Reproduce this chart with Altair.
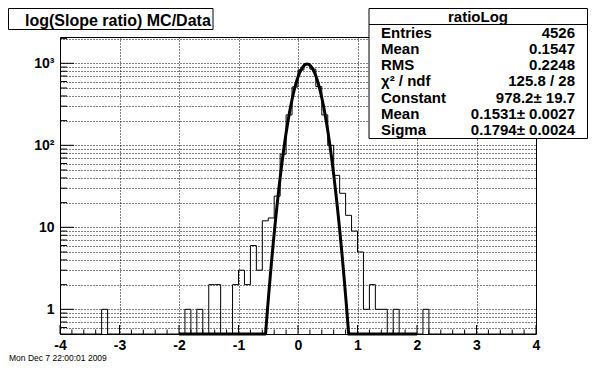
import altair as alt
import pandas as pd

# ---------------- data ----------------
bin_lo = -4.0
bin_width = 0.1
counts = [
    0, 0, 0, 0, 0, 0, 0, 1, 0, 0,
    0, 0, 0, 0, 0, 0, 0, 0, 0, 0,
    0, 1, 0, 1, 0, 2, 2, 0, 0, 2,
    3, 2, 6, 3, 12, 13, 24, 78, 235, 515,
    830, 987, 850, 520, 235, 100, 43, 26, 14, 9,
    5, 1, 2, 1, 1, 0, 1, 0, 0, 0,
    0, 1, 0, 0, 0, 0, 0, 0, 0, 0,
    0, 0, 0, 0, 0, 0, 0, 0, 0, 0,
]
fit_const = 978.2
fit_mean = 0.1531
fit_sigma = 0.1794
fit_lo, fit_hi = -2.0, 2.0
y_min, y_max = 0.5, 2094.0

x_major = [-4, -3, -2, -1, 0, 1, 2, 3, 4]
x_minor = [round(-4 + 0.2 * k, 1) for k in range(41) if k % 5 != 0]
y_major = [1, 10, 100, 1000]
y_minor = [0.6, 0.7, 0.8, 0.9] + [m * d for d in (1, 10, 100) for m in range(2, 10)] + [2000]
y_grid = sorted(y_major + y_minor)

title_text = "log(Slope ratio) MC/Data"
stats_title = "ratioLog"
stat_labels = ["Entries", "Mean", "RMS", "χ² / ndf", "Constant", "Mean", "Sigma"]
stat_values = ["4526", "0.1547", "0.2248", "125.8 / 28", "978.2± 19.7", "0.1531± 0.0027", "0.1794± 0.0024"]
date_text = "Mon Dec  7 22:00:01 2009"

FONT = "Liberation Sans"
W, H = 476, 297

# ---------------- tables ----------------
edges = [bin_lo + i * bin_width for i in range(len(counts) + 1)]
levels = [max(c, y_min) for c in counts] + [max(counts[-1], y_min)]
hist_df = pd.DataFrame({"x": edges, "y": levels})

xs = alt.Scale(domain=[-4, 4], nice=False, zero=False)
ys = alt.Scale(type="log", domain=[y_min, y_max], nice=False)

xaxis = alt.Axis(values=x_major, title=None, ticks=False, domain=False,
                 grid=True, gridDash=[1, 2], gridColor="black", gridOpacity=1,
                 labelExpr="'' + datum.value", labelFont=FONT, labelFontWeight="bold",
                 labelFontSize=14, labelColor="black", labelPadding=4,
                 labelOverlap=False, labelFlush=False)
yaxis = alt.Axis(values=y_grid, title=None, ticks=False, domain=False,
                 grid=True, gridDash=[1, 2], gridColor="black", gridOpacity=1,
                 labelExpr="datum.value == 1 ? '1' : datum.value == 10 ? '10' : datum.value == 100 ? '10²' : datum.value == 1000 ? '10³' : ''",
                 labelFont=FONT, labelFontWeight="bold", labelFontSize=14,
                 labelColor="black", labelPadding=6, labelOverlap=False, labelFlush=False)

X = alt.X("x:Q", scale=xs, axis=xaxis)
Y = alt.Y("y:Q", scale=ys, axis=yaxis)

hist = alt.Chart(hist_df).mark_line(interpolate="step-after", color="black",
                                    strokeWidth=1).encode(x=X, y=Y)

fit = (alt.Chart(alt.sequence(fit_lo, fit_hi + 0.0025, 0.005, as_="x"))
       .transform_calculate(
           y=f"max({y_min}, {fit_const} * exp(-0.5 * pow((datum.x - {fit_mean}) / {fit_sigma}, 2)))")
       .mark_line(color="black", strokeWidth=3)
       .encode(x=X, y=Y))

xt_major = alt.Chart(pd.DataFrame({"x": x_major})).mark_rule(color="black").encode(
    x=X, y=alt.value(H), y2=alt.value(H - 9))
xt_minor = alt.Chart(pd.DataFrame({"x": x_minor})).mark_rule(color="black").encode(
    x=X, y=alt.value(H), y2=alt.value(H - 4.5))
yt_major = alt.Chart(pd.DataFrame({"y": y_major})).mark_rule(color="black").encode(
    y=Y, x=alt.value(0), x2=alt.value(14))
yt_minor = alt.Chart(pd.DataFrame({"y": y_minor})).mark_rule(color="black").encode(
    y=Y, x=alt.value(0), x2=alt.value(7))

one = pd.DataFrame({"a": [0]})

# title box
tbox = alt.Chart(one).mark_rect(fill="white", stroke="black", strokeWidth=1).encode(
    x=alt.value(-51.5), x2=alt.value(153), y=alt.value(-28.5), y2=alt.value(-7.5))
ttext = alt.Chart(one).mark_text(text=title_text, font=FONT, fontWeight="bold", fontSize=16,
                                 align="left", baseline="alphabetic", color="black").encode(
    x=alt.value(-35), y=alt.value(-11))

# stats box
sbox = alt.Chart(one).mark_rect(fill="white", stroke="black", strokeWidth=1).encode(
    x=alt.value(309), x2=alt.value(527.5), y=alt.value(-28.5), y2=alt.value(101.5))
ssep = alt.Chart(one).mark_rule(color="black").encode(
    x=alt.value(309), x2=alt.value(527.5), y=alt.value(-12.5))
stitle = alt.Chart(one).mark_text(text=stats_title, font=FONT, fontWeight="bold", fontSize=15,
                                  align="center", baseline="alphabetic", color="black").encode(
    x=alt.value(418), y=alt.value(-15.5))
slabels = alt.Chart(one).mark_text(text=stat_labels, lineHeight=16.3, font=FONT, fontWeight="bold",
                                   fontSize=15, align="left", baseline="alphabetic", color="black").encode(
    x=alt.value(321), y=alt.value(0.5))
svalues = alt.Chart(one).mark_text(text=stat_values, lineHeight=16.3, font=FONT, fontWeight="bold",
                                   fontSize=15, align="right", baseline="alphabetic", color="black").encode(
    x=alt.value(515), y=alt.value(0.5))

date = alt.Chart(one).mark_text(text=date_text, font=FONT, fontSize=8.5, align="left",
                                baseline="alphabetic", color="black").encode(
    x=alt.value(-51), y=alt.value(H + 27))

chart = alt.layer(
    hist, fit, xt_major, xt_minor, yt_major, yt_minor,
    tbox, ttext, sbox, ssep, stitle, slabels, svalues, date
).properties(
    width=W, height=H,
    padding={"left": 52, "top": 29, "right": 52, "bottom": 30},
    autosize=alt.AutoSizeParams(type="none"),
    background="white",
).configure_view(stroke="black", strokeWidth=1)

chart.save("out.html", embed_options={"renderer": "svg", "actions": False})
